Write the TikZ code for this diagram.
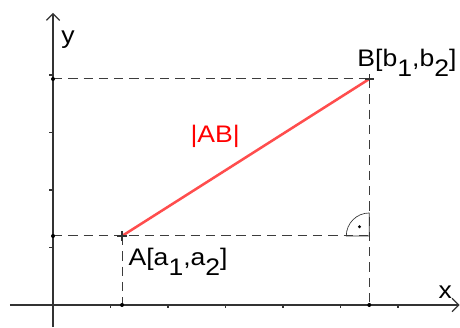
\documentclass[tikz,border=0pt]{standalone}
\usepackage{fontspec}
\setmainfont{Liberation Sans}
\usepackage{tikz}
\usetikzlibrary{arrows.meta,positioning}
\definecolor{axisgray}{RGB}{51,51,51}
\definecolor{guidegray}{RGB}{60,60,60}
\definecolor{segred}{RGB}{255,77,77}
\definecolor{lblred}{RGB}{255,0,0}
\newcommand{\lowsub}[1]{\raisebox{-0.4em}{#1}}

\begin{document}
\begin{tikzpicture}[
    x=1.52cm, y=1.52cm,
    axis/.style={axisgray, line width=0.9pt, -{Straight Barb[length=5pt, width=10pt]}},
    tick/.style={axisgray, line width=0.8pt},
    guide/.style={guidegray, line width=0.75pt, dash pattern=on 7pt off 4.5pt},
    segment/.style={segred, line width=1.9pt},
    pt/.style={circle, fill=black, inner sep=0pt, minimum size=3pt},
    lbl/.style={font=\fontsize{18}{21}\selectfont, inner sep=0pt, xscale=1.11, transform shape}
]
\useasboundingbox (-0.922,-0.383) rectangle (7.078,5.304);

% Axes
\coordinate (O) at (0,0);
\draw[axis] (-0.75,0) -- (7.07,0);
\draw[axis] (0,-0.383) -- (0,5.08);
\node[lbl] (xlab) at (6.82,0.22) {x};
\node[lbl] (ylab) at (0.26,4.62) {y};
\foreach \i in {1,...,6} \draw[tick] (\i,0) -- (\i,-0.06);
\foreach \i in {1,...,4} \draw[tick] (0,\i) -- (-0.07,\i);

% Points and projections
\coordinate (A) at (1.2,1.2);
\coordinate (B) at (5.5,3.93);
\coordinate (Ax) at (A |- O);
\coordinate (Ay) at (A -| O);
\coordinate (Bx) at (B |- O);
\coordinate (By) at (B -| O);
\coordinate (C) at (A -| B);

\draw[guide] (Ay) -- (C);
\draw[guide] (By) -- (B);
\draw[guide] (A) -- (Ax);
\draw[guide] (B) -- (Bx);
\foreach \p in {Ax,Ay,Bx,By} \node[pt] (d\p) at (\p) {};

% Right angle
\draw[axisgray, line width=0.5pt] (C) -- ++(-0.4,0) arc (180:90:0.4) -- cycle;
\node[pt, minimum size=2.5pt] (rdot) at ([shift={(-0.17,0.16)}]C) {};

% Segment AB
\draw[segment] (A) -- (B);
\foreach \p in {A,B}
  \draw[tick] ([xshift=-3.5pt]\p) -- ([xshift=3.5pt]\p)
              ([yshift=-3.5pt]\p) -- ([yshift=3.5pt]\p);
\node[lbl, text=lblred] (AB) at (2.82,2.94) {|AB|};

% Labels
\node[lbl, anchor=base west] (Alab) at (1.31,0.68) {A[a\lowsub{1},a\lowsub{2}]};
\node[lbl, anchor=base west] (Blab) at (5.29,4.14) {B[b\lowsub{1},b\lowsub{2}]};

\end{tikzpicture}
\end{document}
